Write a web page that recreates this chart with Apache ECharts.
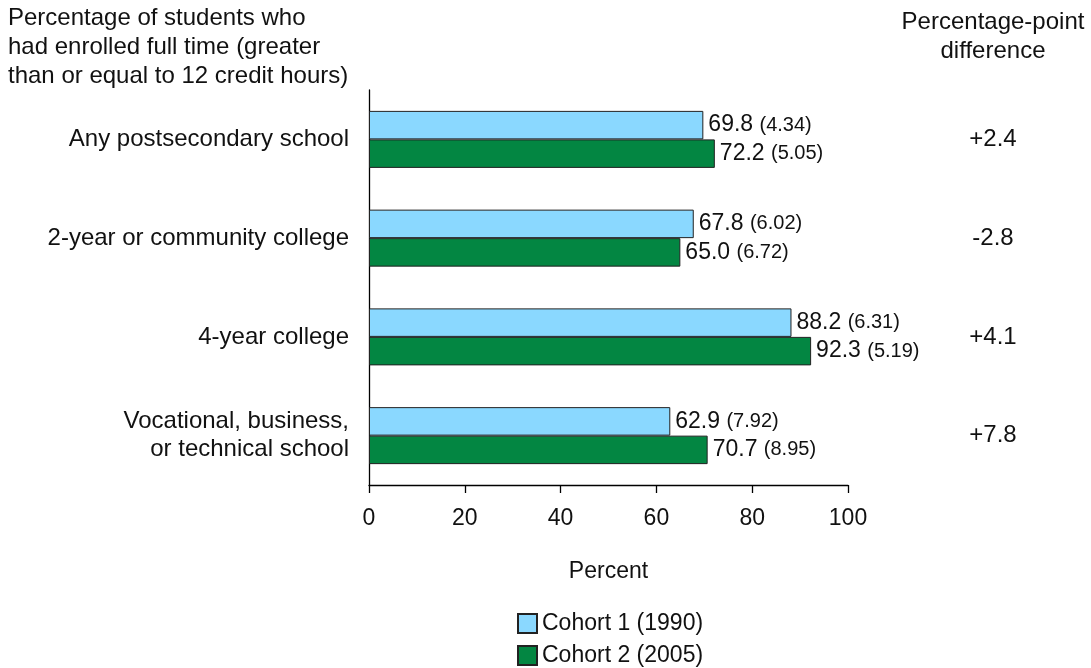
<!DOCTYPE html>
<html>
<head>
<meta charset="utf-8">
<script src="https://cdn.jsdelivr.net/npm/echarts@6/dist/echarts.min.js"></script>
<style>
html,body{margin:0;padding:0;background:#fff;}
#chart{width:1091px;height:668px;}
</style>
</head>
<body>
<div id="chart"></div>
<script>
const categories = ['Any postsecondary school', '2-year or community college', '4-year college', 'Vocational, business,\nor technical school'];
const cohort1 = [69.8, 67.8, 88.2, 62.9];
const cohort2 = [72.2, 65.0, 92.3, 70.7];
const se1 = [4.34, 6.02, 6.31, 7.92];
const se2 = [5.05, 6.72, 5.19, 8.95];
const differences = ['+2.4', '-2.8', '+4.1', '+7.8'];
const xTicks = [0, 20, 40, 60, 80, 100];
const seriesNames = ['Cohort 1 (1990)', 'Cohort 2 (2005)'];

const FONT = 'Liberation Sans, Arial, sans-serif';
const TXT = '#111111';
const chart = echarts.init(document.getElementById('chart'));

function makeLabel(seArr) {
  return {
    show: true,
    position: 'right',
    distance: 5,
    formatter: p => '{v|' + p.value.toFixed(1) + ' }{s|(' + seArr[p.dataIndex].toFixed(2) + ')}',
    rich: {
      v: { fontSize: 23, color: TXT, fontFamily: FONT },
      s: { fontSize: 20, color: TXT, fontFamily: FONT }
    }
  };
}

chart.setOption({
  animation: false,
  textStyle: { fontFamily: FONT, color: TXT },
  grid: { left: 369, right: 243, top: 90, bottom: 183, containLabel: false },
  xAxis: {
    type: 'value', min: xTicks[0], max: xTicks[xTicks.length - 1], interval: 20,
    axisLine: { show: true, lineStyle: { color: '#000', width: 1.3 } },
    axisTick: { show: true, length: 8, lineStyle: { color: '#000', width: 1.3 } },
    axisLabel: { fontSize: 23, color: TXT, margin: 22, fontFamily: FONT },
    splitLine: { show: false },
    name: 'Percent', nameLocation: 'middle', nameGap: 75,
    nameTextStyle: { fontSize: 23, color: TXT, fontFamily: FONT }
  },
  yAxis: [{
    type: 'category', data: categories, inverse: true,
    axisLine: { show: true, lineStyle: { color: '#000', width: 1.3 } },
    axisTick: { show: false },
    axisLabel: { fontSize: 24, color: TXT, margin: 20, lineHeight: 28, fontFamily: FONT }
  }, {
    type: 'category', data: differences, inverse: true, position: 'right',
    axisLine: { show: false }, axisTick: { show: false },
    axisLabel: { fontSize: 24, color: TXT, margin: 145, align: 'center', fontFamily: FONT }
  }],
  legend: {
    orient: 'vertical', left: 512, top: 607, height: 61,
    itemWidth: 19, itemHeight: 19, itemGap: 9,
    icon: 'rect',
    textStyle: { fontSize: 23, color: TXT, fontFamily: FONT },
    data: seriesNames
  },
  graphic: [{
    type: 'text', left: 8, top: 4,
    style: { text: 'Percentage of students who\nhad enrolled full time (greater\nthan or equal to 12 credit hours)', font: '24px ' + FONT, fill: TXT, lineHeight: 29 }
  }, {
    type: 'text', x: 993, y: 8,
    style: { text: 'Percentage-point\ndifference', font: '24px ' + FONT, fill: TXT, lineHeight: 29, align: 'center' }
  }],
  series: [{
    name: seriesNames[0], type: 'bar', data: cohort1, barWidth: 28.5, barGap: '0%',
    itemStyle: { color: '#8AD8FF', borderColor: '#222', borderWidth: 1 },
    label: makeLabel(se1)
  }, {
    name: seriesNames[1], type: 'bar', data: cohort2, barWidth: 28.5, barGap: '0%',
    itemStyle: { color: '#038642', borderColor: '#222', borderWidth: 1 },
    label: makeLabel(se2)
  }]
});
</script>
</body>
</html>
